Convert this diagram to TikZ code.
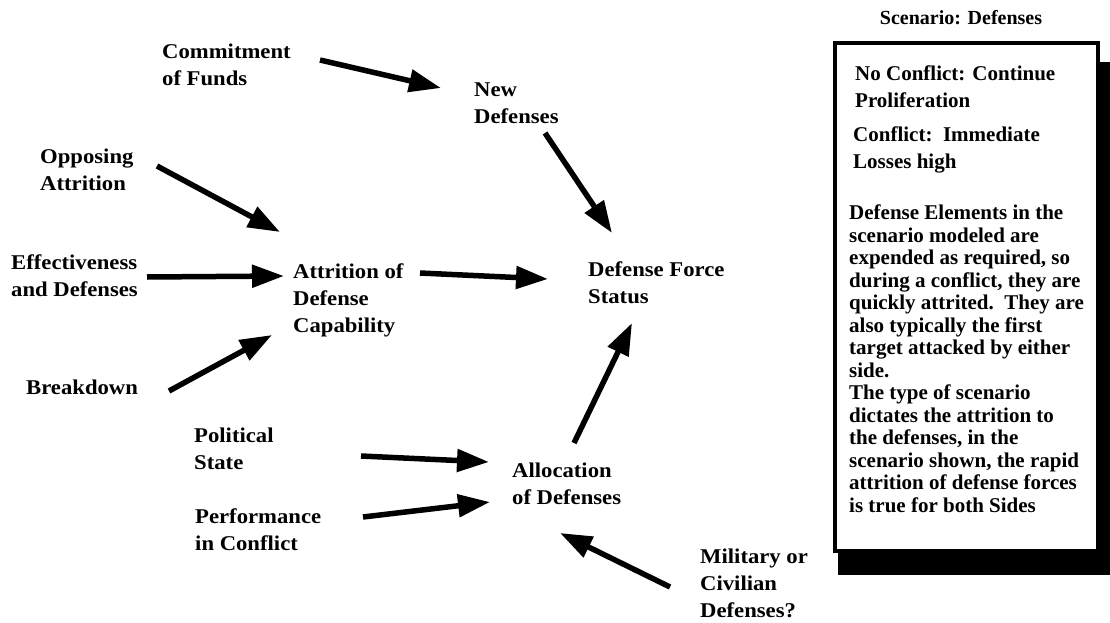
\documentclass[tikz,border=0pt]{standalone}
\usepackage{fontspec}
\setmainfont{Liberation Serif}
\newfontfamily\lblfont{Liberation Serif}[FakeStretch=1.08]
\usetikzlibrary{arrows.meta}
\begin{document}
\begin{tikzpicture}[x=1pt,y=-1pt,
  lbl/.style={anchor=west,inner sep=0pt,align=left,font={\lblfont\fontsize{21}{27}\selectfont\bfseries}},
  boxtxt/.style={anchor=north west,inner sep=0pt,align=left,font={\fontsize{21}{27}\selectfont\bfseries}},
  para/.style={anchor=north west,inner sep=0pt,align=left,font={\fontsize{21}{22.5}\selectfont\bfseries}},
  arr/.style={line width=5.5pt,-{Triangle[length=32pt,width=22pt]}}]
\useasboundingbox (0,0) rectangle (1110,623);
% labels
\node[lbl] (cf) at (162,65) {Commitment\\of Funds};
\node[lbl] (nd) at (474,103) {New\\Defenses};
\node[lbl] (oa) at (40,170) {Opposing\\Attrition};
\node[lbl] (ed) at (11,276) {Effectiveness\\and Defenses};
\node[lbl] (ad) at (293,300) {Attrition of\\Defense\\Capability};
\node[lbl] (dfs) at (588,283) {Defense Force\\Status};
\node[lbl] (bd) at (26,387) {Breakdown};
\node[lbl] (ps) at (194,449) {Political\\State};
\node[lbl] (pc) at (195,530) {Performance\\in Conflict};
\node[lbl] (al) at (512,484) {Allocation\\of Defenses};
\node[lbl] (mc) at (700,583) {Military or\\Civilian\\Defenses?};
% arrows
\draw[arr] ([shift={(158,-5)}]cf.west) -- ([shift={(-33,-15)}]nd.west);
\draw[arr] ([shift={(71,30)}]nd.west) -- ([shift={(24,-50)}]dfs.west);
\draw[arr] ([shift={(117,-4)}]oa.west) -- ([shift={(-13,-68)}]ad.west);
\draw[arr] ([shift={(136,1)}]ed.west) -- ([shift={(-9,-24)}]ad.west);
\draw[arr] ([shift={(143,4)}]bd.west) -- ([shift={(-21,35)}]ad.west);
\draw[arr] ([shift={(127,-27)}]ad.west) -- ([shift={(-40,-4)}]dfs.west);
\draw[arr] ([shift={(62,-41)}]al.west) -- ([shift={(44,40)}]dfs.west);
\draw[arr] ([shift={(167,7)}]ps.west) -- ([shift={(-23,-22)}]al.west);
\draw[arr] ([shift={(168,-13)}]pc.west) -- ([shift={(-22,18)}]al.west);
\draw[arr] ([shift={(-30,4)}]mc.west) -- ([shift={(48,49)}]al.west);
% scenario box
\node[font={\fontsize{20}{24}\selectfont\bfseries},inner sep=0pt] (title) at (961,18) {Scenario: Defenses};
\fill[black] (838,62) rectangle (1112,575);
\draw[line width=4pt,fill=white] (835,43) rectangle (1098,551);
\node[boxtxt] (b1) at (855,66) {No Conflict: Continue\\Proliferation};
\node[boxtxt] (b2) at (853,127) {Conflict:\ \ Immediate\\Losses high};
\node[para] (b3) at (849,205) {Defense Elements in the\\scenario modeled are\\expended as required, so\\during a conflict, they are\\quickly attrited.\ \ They are\\also typically the first\\target attacked by either\\side.\\The type of scenario\\dictates the attrition to\\the defenses, in the\\scenario shown, the rapid\\attrition of defense forces\\is true for both Sides};
\end{tikzpicture}
\end{document}
